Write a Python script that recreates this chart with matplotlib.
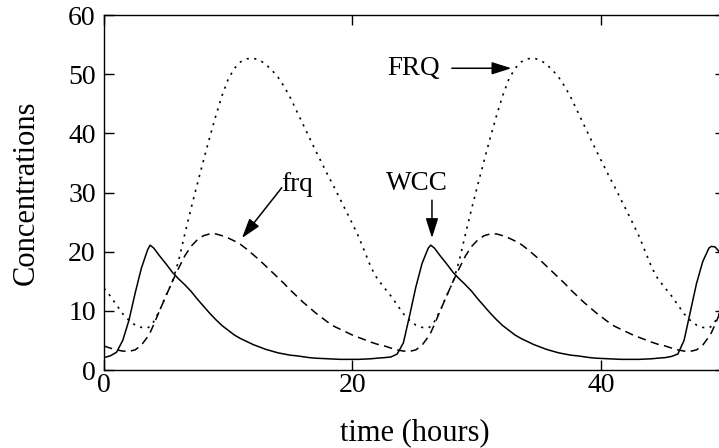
import matplotlib
matplotlib.use("Agg")
import matplotlib.pyplot as plt

plt.rcParams['font.family'] = ['Liberation Serif', 'DejaVu Serif']
plt.rcParams['mathtext.fontset'] = 'stix'

# time points (hours)
time = [0.0, 0.5, 1.0, 1.5, 2.0, 2.5, 3.0, 3.5, 3.7, 4.0, 4.5, 5.0, 5.5, 6.0, 6.5, 7.0,
        7.5, 8.0, 8.5, 9.0, 9.5, 10.0, 10.5, 11.0, 11.5, 12.0, 12.5, 13.0, 13.5, 14.0,
        14.5, 15.0, 15.5, 16.0, 16.5, 17.0, 17.5, 18.0, 18.5, 19.0, 19.5, 20.0, 20.5,
        21.0, 21.5, 22.0,
        22.6, 23.1, 23.6, 24.1, 24.6, 25.1, 25.6, 26.1, 26.3, 26.6, 27.1, 27.6, 28.1,
        28.6, 29.1, 29.6, 30.1, 30.6, 31.1, 31.6, 32.1, 32.6, 33.1, 33.6, 34.1, 34.6,
        35.1, 35.6, 36.1, 36.6, 37.1, 37.6, 38.1, 38.6, 39.1, 39.6, 40.1, 40.6, 41.1,
        41.6, 42.1, 42.6, 43.1, 43.6, 44.1, 44.6,
        45.2, 45.7, 46.2, 46.7, 47.2, 47.7, 48.2, 48.7, 48.9, 49.2, 49.7]

# WCC (solid)
wcc = [2.1, 2.4, 3.0, 5.0, 8.4, 13.0, 17.2, 20.3, 21.1, 20.6, 19.2, 17.9, 16.5, 15.4,
       14.4, 13.3, 12.0, 10.8, 9.6, 8.5, 7.5, 6.7, 5.9, 5.3, 4.8, 4.3, 3.9, 3.5, 3.2,
       2.9, 2.7, 2.5, 2.4, 2.25, 2.1, 2.0, 1.95, 1.9, 1.85, 1.8, 1.8, 1.8, 1.8, 1.85,
       1.9, 2.0,
       2.1, 2.2, 2.7, 4.6, 9.2, 14.0, 18.0, 20.6, 21.1, 20.6, 19.2, 17.9, 16.5, 15.4,
       14.4, 13.3, 12.0, 10.8, 9.6, 8.5, 7.5, 6.7, 5.9, 5.3, 4.8, 4.3, 3.9, 3.5, 3.2,
       2.9, 2.7, 2.5, 2.4, 2.25, 2.1, 2.0, 1.95, 1.9, 1.85, 1.8, 1.8, 1.8, 1.8, 1.85,
       1.9, 2.0,
       2.1, 2.3, 2.7, 5.0, 9.8, 14.6, 18.3, 20.6, 20.9, 20.8, 19.6]

# FRQ protein (dotted)
frq_protein = [13.8, 12.5, 11.0, 9.5, 8.4, 7.6, 7.2, 7.1, 7.4, 8.2, 10.2, 12.7, 14.9,
               18.5, 23.0, 27.3, 31.4, 35.4, 39.3, 43.0, 46.4, 49.2, 51.0, 52.1, 52.6,
               52.7, 52.4, 51.7, 50.7, 49.5, 47.9, 46.0, 43.8, 41.6, 39.4, 37.2, 35.1,
               33.0, 31.0, 28.9, 26.8, 24.7, 22.5, 19.9, 17.3, 15.4,
               13.8, 12.5, 11.0, 9.5, 8.4, 7.6, 7.2, 7.1, 7.4, 8.2, 10.2, 12.7, 14.9,
               18.5, 23.0, 27.3, 31.4, 35.4, 39.3, 43.0, 46.4, 49.2, 51.0, 52.1, 52.6,
               52.7, 52.4, 51.7, 50.7, 49.5, 47.9, 46.0, 43.8, 41.6, 39.4, 37.2, 35.1,
               33.0, 31.0, 28.9, 26.8, 24.7, 22.5, 19.9, 17.3, 15.4,
               13.8, 12.5, 11.0, 9.5, 8.4, 7.6, 7.2, 7.1, 7.4, 8.2, 10.2]

# frq mRNA (dashed)
frq_mrna = [4.05, 3.7, 3.4, 3.2, 3.15, 3.4, 4.2, 5.6, 6.3, 7.7, 10.2, 12.6, 15.0, 17.2,
            19.3, 20.9, 22.0, 22.7, 23.0, 23.0, 22.7, 22.3, 21.8, 21.2, 20.4, 19.5,
            18.6, 17.6, 16.6, 15.6, 14.6, 13.5, 12.5, 11.5, 10.6, 9.7, 8.9, 8.1, 7.4,
            6.9, 6.4, 5.9, 5.5, 5.1, 4.7, 4.35,
            4.05, 3.7, 3.4, 3.2, 3.15, 3.4, 4.2, 5.6, 6.3, 7.7, 10.2, 12.6, 15.0, 17.2,
            19.3, 20.9, 22.0, 22.7, 23.0, 23.0, 22.7, 22.3, 21.8, 21.2, 20.4, 19.5,
            18.6, 17.6, 16.6, 15.6, 14.6, 13.5, 12.5, 11.5, 10.6, 9.7, 8.9, 8.1, 7.4,
            6.9, 6.4, 5.9, 5.5, 5.1, 4.7, 4.35,
            4.05, 3.7, 3.4, 3.2, 3.15, 3.4, 4.2, 5.6, 6.3, 7.7, 10.2]

x_ticks = [0, 20, 40]
y_ticks = [0, 10, 20, 30, 40, 50, 60]

fig = plt.figure(figsize=(7.19, 4.48), dpi=100)
ax = fig.add_axes([0.1448, 0.1741, 0.8636, 0.7924])

ax.plot(time, wcc, color='black', lw=1.1, ls='-')
ax.plot(time, frq_protein, color='black', lw=1.2, ls=(0, (1.3, 3.3)))
ax.plot(time, frq_mrna, color='black', lw=1.1, ls=(0, (5.5, 3.5)))

ax.set_xlim(0, 50)
ax.set_ylim(0, 60)
ax.set_xticks(x_ticks)
ax.set_yticks(y_ticks)
ax.tick_params(direction='in', length=7, width=1.0, top=True, right=True,
               labelsize=20, colors='black')
ax.tick_params(axis='y', pad=6)
ax.tick_params(axis='x', pad=2)
for s in ax.spines.values():
    s.set_linewidth(1.0)

ax.set_xlabel('time (hours)', fontsize=22)
ax.set_ylabel('Concentrations', fontsize=22)
ax.xaxis.set_label_coords(0.5, -0.135)
ax.yaxis.set_label_coords(-0.102, 0.5)

arrow = dict(arrowstyle='-|>,head_length=1.2,head_width=0.38', color='black', lw=1.1,
             shrinkA=0, shrinkB=0)
ax.annotate('', xy=(11.1, 22.3), xytext=(14.3, 30.8), arrowprops=arrow)
ax.text(15.5, 31.3, 'frq', fontsize=19.5, ha='center', va='center')
ax.annotate('', xy=(32.8, 51.0), xytext=(28.0, 51.0), arrowprops=arrow)
ax.text(24.9, 50.9, 'FRQ', fontsize=19.5, ha='center', va='center')
ax.annotate('', xy=(26.4, 22.3), xytext=(26.4, 28.7), arrowprops=arrow)
ax.text(25.2, 31.6, 'WCC', fontsize=19.5, ha='center', va='center')

fig.savefig('out.png', dpi=100)
